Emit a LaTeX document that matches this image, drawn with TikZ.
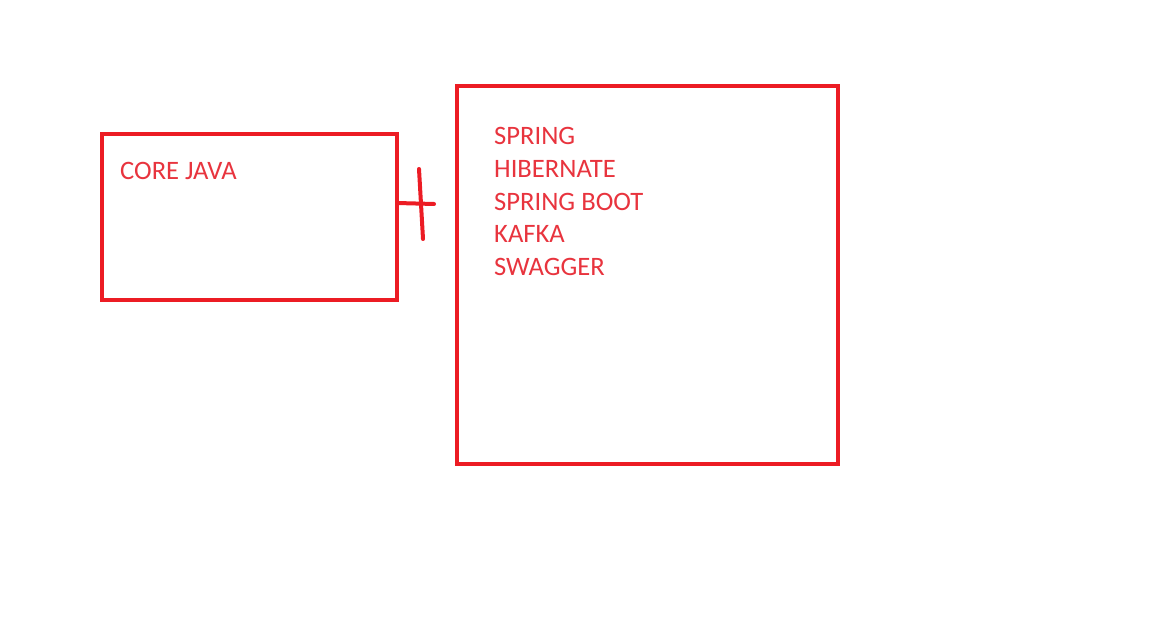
\documentclass[tikz,border=0pt]{standalone}
\usepackage{fontspec}
\setmainfont{Carlito}
\definecolor{paintred}{RGB}{236,28,36}
\definecolor{textred}{RGB}{232,52,62}
\begin{document}
\begin{tikzpicture}[x=1pt,y=-1pt,
  box/.style={draw=paintred,line width=4.5pt,minimum width=0pt},
  lbl/.style={text=textred,font=\fontsize{26.6}{30}\selectfont,anchor=base west,inner sep=0pt},
  plusline/.style={draw=paintred,line width=4pt,line cap=round}]
\useasboundingbox (0,0) rectangle (1152,639);
\draw[box] (102,134) rectangle (397,300);
\draw[box] (457,86) rectangle (838,464);
\coordinate (leftbox) at (397,203);
\node[lbl] (core) at (120,180) {CORE JAVA};
\node[lbl] (t1) at (494,145) {SPRING};
\node[lbl] (t2) at (494,178) {HIBERNATE};
\node[lbl] (t3) at (494,211) {SPRING BOOT};
\node[lbl] (t4) at (494,243) {KAFKA};
\node[lbl] (t5) at (494,276) {SWAGGER};
\coordinate (ph) at (434,204);
\coordinate (pv1) at (419,169);
\coordinate (pv2) at (423,239);
\draw[plusline] (leftbox) -- (ph);
\draw[plusline] (pv1) -- (pv2);
\end{tikzpicture}
\end{document}
